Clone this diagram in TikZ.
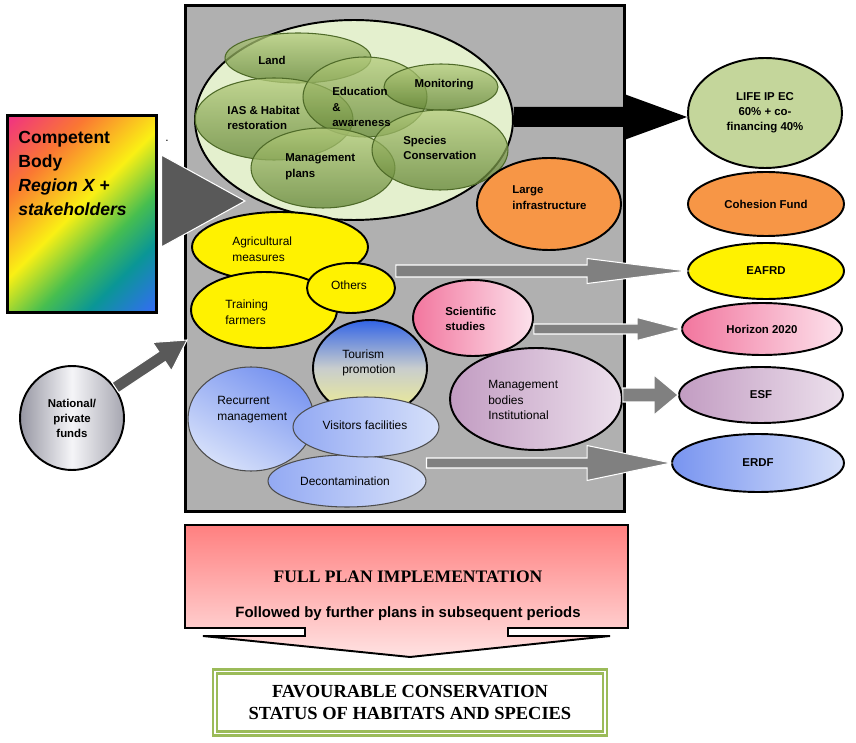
\documentclass[tikz,border=0pt]{standalone}
\usepackage{fontspec}
\setmainfont{Liberation Sans}
\newfontfamily\timesfont{Liberation Serif}
\usetikzlibrary{shapes.geometric,calc,positioning}

\definecolor{boxgray}{RGB}{176,176,176}
\definecolor{paleleaf}{RGB}{228,240,206}
\definecolor{leaftop}{RGB}{180,204,124}
\definecolor{leafbot}{RGB}{96,130,50}
\definecolor{leafline}{RGB}{78,106,40}
\definecolor{lifegreen}{RGB}{196,214,155}
\definecolor{fundorange}{RGB}{247,150,70}
\definecolor{pinkdark}{RGB}{242,118,158}
\definecolor{pinklight}{RGB}{252,226,236}
\definecolor{lilacdark}{RGB}{194,156,194}
\definecolor{lilaclight}{RGB}{236,224,236}
\definecolor{bluedark}{RGB}{120,148,240}
\definecolor{bluelight}{RGB}{214,224,250}
\definecolor{tourblue}{RGB}{50,100,230}
\definecolor{tourmid}{RGB}{200,205,205}
\definecolor{touryellow}{RGB}{242,240,140}
\definecolor{silverdark}{RGB}{150,150,162}
\definecolor{silverlight}{RGB}{245,245,248}
\definecolor{arrowgray}{RGB}{128,128,128}
\definecolor{wedgegray}{RGB}{89,89,89}
\definecolor{salmon}{RGB}{255,128,128}
\definecolor{blush}{RGB}{255,226,226}
\definecolor{framegreen}{RGB}{155,187,89}
\definecolor{rbpink}{RGB}{240,50,130}
\definecolor{rborange}{RGB}{250,120,50}
\definecolor{rbyellow}{RGB}{250,240,20}
\definecolor{rbgreen}{RGB}{70,190,80}
\definecolor{rbteal}{RGB}{10,150,150}
\definecolor{rbblue}{RGB}{50,110,240}

\pgfdeclarehorizontalshading{rainbow}{100bp}{color(0bp)=(rbpink); color(15bp)=(rbpink);
  color(31bp)=(rborange); color(48bp)=(rbyellow); color(61bp)=(rbgreen);
  color(71bp)=(rbteal); color(84bp)=(rbblue); color(100bp)=(rbblue)}

% block arrow: [style] start, tip, half shaft, half head, head length
\newcommand\blockarrow[6][]{%
  \coordinate (ba-h) at ($(#3)!#6!(#2)$);
  \path[#1] ($(#2)!#4!90:(#3)$) -- ($(ba-h)!#4!90:(#3)$) -- ($(ba-h)!#5!90:(#3)$)
    -- (#3) -- ($(ba-h)!#5!-90:(#3)$) -- ($(ba-h)!#4!-90:(#3)$) -- ($(#2)!#4!-90:(#3)$) -- cycle;
}

\begin{document}
\begin{tikzpicture}[x=0.02cm,y=-0.02cm,
  txt/.style={font=\fontsize{6.8}{9}\selectfont,align=left,inner sep=0pt},
  btxt/.style={txt,font=\fontsize{6.5}{9}\selectfont\bfseries},
  blob/.style={ellipse,draw=black,line width=1.1pt,inner sep=0pt},
  leaf/.style={ellipse,draw=leafline,line width=0.6pt,top color=leaftop,bottom color=leafbot,fill opacity=0.75,inner sep=0pt},
  fund/.style={blob,font=\fontsize{6.5}{8.5}\selectfont\bfseries,align=center},
  grayarrow/.style={fill=arrowgray,draw=white,line width=0.6pt}]
  \useasboundingbox (0,0) rectangle (856,743);

  % main panel
  \node[draw,fill=boxgray,line width=1.7pt,minimum width=8.8cm,minimum height=10.14cm] (panel) at (405,258.5) {};

  % actions cluster
  \node[blob,fill=paleleaf,minimum width=6.36cm,minimum height=4cm] (bigell) at (354,120) {};
  \node[leaf,minimum width=2.92cm,minimum height=1cm] (land) at (298,58) {};
  \node[leaf,minimum width=3.16cm,minimum height=1.64cm] (ias) at (274,119) {};
  \node[leaf,minimum width=2.48cm,minimum height=1.6cm] (edu) at (365,97) {};
  \node[leaf,minimum width=2.28cm,minimum height=0.92cm] (moni) at (441,87) {};
  \node[leaf,minimum width=2.88cm,minimum height=1.6cm] (mplan) at (323,168) {};
  \node[leaf,minimum width=2.72cm,minimum height=1.6cm] (spec) at (440,150) {};
  \node[btxt] (tland) at (272,60) {Land};
  \node[btxt,anchor=west] (tias) at (227,118) {IAS \& Habitat\\restoration};
  \node[btxt,anchor=west] (tedu) at (332,107) {Education\\\&\\awareness};
  \node[btxt] (tmoni) at (444,85) {Monitoring};
  \node[btxt,anchor=west] (tspec) at (403,148) {Species\\Conservation};
  \node[btxt,anchor=west] (tmplan) at (285,167) {Management\\plans};

  \node[blob,fill=fundorange,minimum width=2.88cm,minimum height=1.84cm] (infra) at (549,204) {};
  \node[btxt,anchor=west] (tinfra) at (512,198) {Large\\infrastructure};

  \node[blob,fill=yellow,minimum width=3.52cm,minimum height=1.4cm] (agri) at (280,247) {};
  \node[blob,fill=yellow,minimum width=2.92cm,minimum height=1.52cm] (train) at (264,310) {};
  \node[blob,fill=yellow,minimum width=1.76cm,minimum height=1cm] (others) at (351,288) {};
  \node[txt,anchor=west] (tagri) at (232,249) {Agricultural\\measures};
  \node[txt] (tothers) at (349,285) {Others};
  \node[txt,anchor=west] (ttrain) at (225,312) {Training\\farmers};

  \node[blob,top color=tourblue,bottom color=touryellow,middle color=tourmid,minimum width=2.28cm,minimum height=1.92cm] (tour) at (370,368) {};
  \node[ellipse,draw=black!70,line width=0.6pt,left color=bluedark,right color=bluelight,shading angle=-30,minimum width=2.52cm,minimum height=2.08cm] (recur) at (251,419) {};
  \node[ellipse,draw=black!70,line width=0.6pt,left color=bluedark!80!white,right color=bluelight,minimum width=3.16cm,minimum height=1.04cm] (deco) at (347,481) {};
  \node[ellipse,draw=black!70,line width=0.6pt,left color=bluedark!80!white,right color=bluelight,minimum width=2.92cm,minimum height=1.2cm] (visit) at (366,427) {};
  \node[txt,anchor=west] (ttour) at (342,363) {Tourism\\promotion};
  \node[txt,anchor=west] (trecur) at (217,410) {Recurrent\\management};
  \node[txt] (tvisit) at (365,425) {Visitors facilities};
  \node[txt] (tdeco) at (345,481) {Decontamination};

  \node[blob,left color=pinkdark,right color=pinklight,minimum width=2.4cm,minimum height=1.52cm] (sci) at (473,318) {};
  \node[btxt,anchor=west] (tsci) at (445,319) {Scientific\\studies};
  \node[blob,left color=lilacdark,right color=lilaclight,minimum width=3.44cm,minimum height=2.04cm] (mgmt) at (536,399) {};
  \node[txt,anchor=west] (tmgmt) at (488,400) {Management\\bodies\\Institutional};

  % funding sources
  \node[fund,fill=lifegreen,minimum width=3.08cm,minimum height=2.2cm] (life) at (765,113) {LIFE IP EC\\60\% + co-\\financing 40\%};
  \node[fund,fill=fundorange,minimum width=3.12cm,minimum height=1.28cm] (coh) at (766,204) {Cohesion Fund};
  \node[fund,fill=yellow,minimum width=3.12cm,minimum height=1.12cm] (eafrd) at (766,271) {EAFRD};
  \node[fund,left color=pinkdark,right color=pinklight,minimum width=3.2cm,minimum height=1.04cm] (hor) at (762,329) {Horizon 2020};
  \node[fund,left color=lilacdark,right color=lilaclight,minimum width=3.28cm,minimum height=1.12cm] (esf) at (761,395) {ESF};
  \node[fund,left color=bluedark,right color=bluelight,minimum width=3.44cm,minimum height=1.16cm] (erdf) at (758,463) {ERDF};

  % flows to funds
  \coordinate (bigout) at (bigell.east |- 0,117);
  \coordinate (lifein) at (life.west |- 0,117);
  \blockarrow[fill=black]{bigout}{lifein}{0.2cm}{0.46cm}{1.26cm}
  \coordinate (othersout) at (others.east |- eafrd.west);
  \coordinate (sciout) at (sci.east |- hor.west);
  \coordinate (mgmtout) at (mgmt.east |- esf.west);
  \coordinate (decoout) at (deco.east |- erdf.west);
  \blockarrow[grayarrow]{othersout}{eafrd.west}{0.12cm}{0.25cm}{2cm}
  \blockarrow[grayarrow]{sciout}{hor.west}{0.1cm}{0.23cm}{0.88cm}
  \blockarrow[grayarrow]{mgmtout}{esf.west}{0.14cm}{0.4cm}{0.48cm}
  \blockarrow[grayarrow]{decoout}{erdf.west}{0.1cm}{0.35cm}{1.68cm}

  % competent body
  \node[draw,line width=1.7pt,shading=rainbow,shading angle=-45,minimum width=3cm,minimum height=3.96cm] (cb) at (82,214) {};
  \node[anchor=north west,align=left,inner sep=0pt,font=\fontsize{10}{13.6}\selectfont\bfseries] (cbtext) at (18,131)
    {Competent\\Body\\\textit{Region X +}\\\textit{stakeholders}};
  \coordinate (cbtip) at (245,201);
  \path[fill=wedgegray,draw=white,line width=0.6pt] ($(cb.east)+(3,-59)$) -- (cbtip) -- ($(cb.east)+(3,33)$) -- cycle;
  \node[txt] (dot) at (167,141) {.};

  % national funds
  \node[circle,draw,line width=1.1pt,left color=silverdark,right color=silverdark!85!white,middle color=silverlight,minimum size=2.08cm,inner sep=0pt,font=\fontsize{6.5}{8.5}\selectfont\bfseries,align=center] (nat) at (72,418) {National/\\private\\funds};
  \coordinate (nattip) at (187,340);
  \blockarrow[fill=wedgegray,draw=white,line width=0.6pt]{nat.35}{nattip}{0.12cm}{0.34cm}{0.6cm}

  % outcome
  \path[draw=black,line width=1.1pt,top color=salmon,bottom color=blush] (185,525) -- (628,525) -- (628,628) -- (508,628) -- (508,636)
    -- (610,636) -- (410,657) -- (203,636) -- (305,636) -- (305,628) -- (185,628) -- cycle;
  \node[font=\timesfont\bfseries\fontsize{10}{12}\selectfont] (fullplan) at (408,577) {FULL PLAN IMPLEMENTATION};
  \node[font=\bfseries\fontsize{8.5}{10}\selectfont] (further) at (408,614) {Followed by further plans in subsequent periods};
  \node[draw=framegreen,line width=1.4pt,double=white,double distance=0.7pt,fill=white,minimum width=7.8cm,minimum height=1.24cm,
    align=center,font=\timesfont\bfseries\fontsize{10.5}{12.5}\selectfont] (fcs) at (410,702.5)
    {FAVOURABLE CONSERVATION\\STATUS OF HABITATS AND SPECIES};
\end{tikzpicture}
\end{document}
